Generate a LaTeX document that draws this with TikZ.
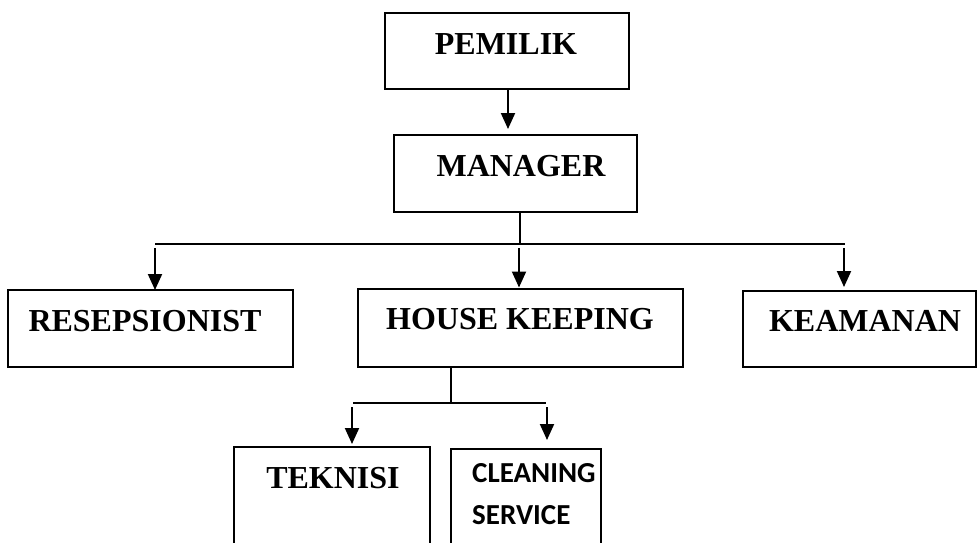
\documentclass[tikz,border=0pt]{standalone}
\usepackage{fontspec}
\setmainfont{Liberation Serif}
\newfontfamily\calfont{Carlito}
\usetikzlibrary{arrows.meta}
\begin{document}
\begin{tikzpicture}[x=1pt,y=-1pt,
  boxnode/.style={draw=black,line width=2.2pt,rectangle,inner sep=0pt,outer sep=0pt},
  lbl/.style={inner sep=0pt,font=\fontsize{32}{38}\selectfont\bfseries},
  callbl/.style={inner sep=0pt,align=left,font=\fontsize{29}{42}\selectfont\calfont\bfseries},
  conn/.style={line width=2pt},
  arr/.style={line width=2pt,-{Triangle[width=14pt,length=16pt]}}]
\useasboundingbox (0,0) rectangle (980,543);
\fill[white] (0,0) rectangle (980,543);
% boxes
\node[boxnode,minimum width=244pt,minimum height=76pt] (pem) at (507,51) {};
\node[boxnode,minimum width=243pt,minimum height=77pt] (man) at (515.5,173.5) {};
\node[boxnode,minimum width=285pt,minimum height=77pt] (res) at (150.5,328.5) {};
\node[boxnode,minimum width=325pt,minimum height=78pt] (hk) at (520.5,328) {};
\node[boxnode,minimum width=233pt,minimum height=76pt] (kea) at (859.5,329) {};
\node[boxnode,minimum width=196pt,minimum height=113pt] (tek) at (332,503.5) {};
\node[boxnode,minimum width=150pt,minimum height=111pt] (cle) at (526,504.5) {};
% labels
\node[lbl] (tpem) at (506,44) {PEMILIK};
\node[lbl] (tman) at (521,166) {MANAGER};
\node[lbl] (tres) at (145,321) {RESEPSIONIST};
\node[lbl] (thk) at (520,319) {HOUSE KEEPING};
\node[lbl] (tkea) at (865,321) {KEAMANAN};
\node[lbl] (ttek) at (333,478) {TEKNISI};
\node[callbl,anchor=north west] (tcle) at (472,463) {CLEANING\\SERVICE};
% junction coordinates
\coordinate (m1) at (520,244);
\coordinate (hl) at (155,244);
\coordinate (hr) at (845,244);
\coordinate (a1) at (155,248);
\coordinate (a2) at (519,248);
\coordinate (a3) at (844,248);
\coordinate (h1) at (451,403);
\coordinate (hl2) at (353,403);
\coordinate (hr2) at (546,403);
\coordinate (b1) at (352,407);
\coordinate (b2) at (547,407);
% connectors
\draw[arr] (pem.south -| 508,0) -- (508,129);
\draw[conn] (man.south -| m1) -- (m1);
\draw[conn] (hl) -- (hr);
\draw[arr] (a1) -- (a1 |- res.north);
\draw[arr] (a2) -- ([yshift=1.5pt]a2 |- hk.north);
\draw[arr] (a3) -- ([yshift=4pt]a3 |- kea.north);
\draw[conn] (hk.south -| h1) -- (h1);
\draw[conn] (hl2) -- (hr2);
\draw[arr] (b1) -- ([yshift=3pt]b1 |- tek.north);
\draw[arr] (b2) -- ([yshift=9pt]b2 |- cle.north);
\end{tikzpicture}
\end{document}
